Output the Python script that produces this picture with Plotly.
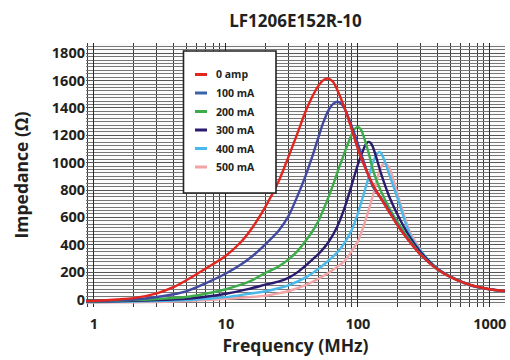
import plotly.graph_objects as go

# ---- data ----
f_0amp = [0.85, 1, 1.5, 2, 3, 4, 5, 7, 10, 13, 16, 20, 25, 30, 35, 40, 45, 50, 55, 60, 65, 70, 80, 90,
          100, 115, 130, 150, 175, 200, 250, 300, 400, 500, 700, 1000, 1300]
z_0amp = [-12, -10, 0, 10, 45, 90, 140, 225, 320, 420, 530, 680, 860, 1050, 1220, 1370, 1480, 1560, 1605, 1615,
          1590, 1530, 1390, 1240, 1100, 950, 840, 735, 630, 540, 415, 325, 222, 166, 108, 75, 62]

f_100ma = [0.85, 1, 1.5, 2, 3, 4, 5, 7, 10, 13, 16, 20, 25, 30, 35, 40, 45, 50, 55, 60, 65, 70, 75, 80, 90,
           100, 115, 130, 150, 175, 200, 250, 300, 400, 500, 700, 1000, 1300]
z_100ma = [-15, -12, -6, 0, 18, 38, 60, 118, 190, 255, 320, 405, 500, 615, 760, 900, 1040, 1180, 1300, 1385,
           1430, 1445, 1430, 1390, 1265, 1140, 960, 825, 740, 640, 545, 418, 326, 222, 166, 107, 74, 62]

f_200ma = [0.85, 1, 2, 3, 5, 7, 10, 15, 20, 25, 30, 35, 40, 45, 50, 55, 60, 65, 70, 75, 80, 85, 90, 95,
           100, 105, 110, 120, 130, 140, 150, 175, 200, 250, 300, 400, 500, 700, 1000, 1300]
z_200ma = [-15, -14, -5, 3, 18, 42, 75, 130, 195, 240, 295, 355, 425, 495, 570, 660, 750, 840, 930, 1010,
           1085, 1150, 1210, 1248, 1262, 1245, 1200, 1080, 950, 860, 790, 660, 565, 428, 330, 222, 166, 107, 74, 62]

f_300ma = [0.85, 1, 2, 3, 5, 7, 10, 15, 20, 25, 30, 35, 40, 45, 50, 60, 70, 80, 90, 100, 110, 115, 120,
           125, 130, 140, 150, 160, 175, 200, 250, 300, 400, 500, 700, 1000, 1300]
z_300ma = [-15, -15, -10, -5, 5, 20, 42, 78, 108, 130, 160, 200, 245, 290, 330, 420, 535, 680, 840, 985,
           1095, 1135, 1152, 1145, 1115, 1018, 920, 840, 740, 620, 450, 345, 225, 168, 108, 74, 62]

f_400ma = [0.85, 1, 2, 3, 5, 7, 10, 15, 20, 25, 30, 40, 50, 60, 70, 80, 90, 100, 110, 120, 130, 140, 145,
           150, 160, 175, 200, 250, 300, 400, 500, 700, 1000, 1300]
z_400ma = [-18, -18, -15, -12, -5, 5, 17, 42, 60, 82, 105, 160, 222, 285, 345, 420, 510, 630, 760, 885,
           1000, 1065, 1079, 1070, 1010, 900, 740, 468, 355, 228, 170, 109, 75, 62]

f_500ma = [0.85, 1, 2, 3, 5, 7, 10, 15, 20, 25, 30, 40, 50, 60, 70, 80, 90, 100, 110, 120, 130, 140, 150,
           160, 170, 180, 200, 225, 250, 300, 350, 400, 500, 700, 1000, 1300]
z_500ma = [-22, -22, -20, -18, -12, -5, 5, 17, 28, 45, 62, 105, 150, 195, 240, 285, 355, 425, 530, 645,
           760, 880, 970, 994, 975, 920, 770, 610, 485, 360, 262, 218, 163, 103, 72, 62]

series_names = ["0 amp", "100 mA", "200 mA", "300 mA", "400 mA", "500 mA"]
series_freqs = [f_0amp, f_100ma, f_200ma, f_300ma, f_400ma, f_500ma]
series_values = [z_0amp, z_100ma, z_200ma, z_300ma, z_400ma, z_500ma]
series_colors = ["#e2261f", "#4149a0", "#3cab4a", "#2b1b6e", "#48b9ea", "#f2a3a5"]
legend_colors = ["#e2261f", "#3a63a8", "#3cab4a", "#2b1b6e", "#48b9ea", "#f2a3a5"]

x_tick_vals = [1, 10, 100, 1000]
x_tick_text = ["1", "10", "100", "1000"]
y_tick_vals = [0, 200, 400, 600, 800, 1000, 1200, 1400, 1600, 1800]

FONT = "Open Sans"
W, H = 510, 360
L, R, T, B = 86, 5, 43, 53
PW, PH = W - L - R, H - T - B


def px_x(px):
    return (px - L) / PW


def px_y(py):
    return (H - B - py) / PH


fig = go.Figure()
for name, fx, vals, col in reversed(list(zip(series_names, series_freqs, series_values, series_colors))):
    fig.add_trace(go.Scatter(
        x=fx, y=vals, name=name, mode="lines",
        line=dict(color=col, width=2.4, shape="spline", smoothing=0.8),
        showlegend=False, hoverinfo="skip",
    ))

# custom legend (box + short sample lines + labels)
shapes = [dict(type="rect", xref="paper", yref="paper",
               x0=px_x(183.5), x1=px_x(276), y0=px_y(193), y1=px_y(51),
               fillcolor="white", line=dict(color="#222", width=1.6), layer="above")]
annotations = []
for i, (name, col) in enumerate(zip(series_names, legend_colors)):
    yc = 74.5 + i * 18.5
    shapes.append(dict(type="line", xref="paper", yref="paper",
                       x0=px_x(195), x1=px_x(207), y0=px_y(yc), y1=px_y(yc),
                       line=dict(color=col, width=3), layer="above"))
    annotations.append(dict(xref="paper", yref="paper", x=px_x(214), y=px_y(yc),
                            text=name, showarrow=False, xanchor="left", yanchor="middle",
                            font=dict(family=FONT, size=10.5, color="#231f20", weight="bold")))

fig.update_layout(
    width=W, height=H,
    margin=dict(l=L, r=R, t=T, b=B, autoexpand=False),
    paper_bgcolor="white", plot_bgcolor="#fbfbfb",
    title=dict(text="<b>LF1206E152R-10</b>", x=0.5, xref="paper", y=1 - 21 / H,
               yref="container", xanchor="center", yanchor="middle",
               font=dict(family=FONT, size=17, color="#231f20")),
    shapes=shapes, annotations=annotations,
    showlegend=False,
)

fig.update_xaxes(
    type="log", range=[-0.06, 3.115],
    tickvals=x_tick_vals, ticktext=x_tick_text,
    tickfont=dict(family=FONT, size=14.5, color="#231f20", weight="bold"),
    ticklabelstandoff=6,
    showgrid=True, gridcolor="#2a2a2a", gridwidth=1.2,
    minor=dict(dtick="D1", showgrid=True, gridcolor="#3a3a3a", gridwidth=1.1),
    zeroline=False, showline=False, automargin=False,
    title=dict(text="<b>Frequency (MHz)</b>", standoff=0,
               font=dict(family=FONT, size=17.5, color="#231f20")),
)
fig.update_yaxes(
    range=[-55, 1875],
    tickvals=y_tick_vals,
    tickfont=dict(family=FONT, size=14.5, color="#231f20", weight="bold"),
    showgrid=True, gridcolor="#555", gridwidth=1,
    minor=dict(dtick=25, showgrid=True, gridcolor="#777", gridwidth=1),
    zeroline=False, showline=False, automargin=False,
    title=dict(text="<b>Impedance (Ω)</b>", standoff=18,
               font=dict(family=FONT, size=17.5, color="#231f20")),
)

fig.write_html("out.html", config={"displayModeBar": False},
               post_script="document.body.style.margin='0';")
